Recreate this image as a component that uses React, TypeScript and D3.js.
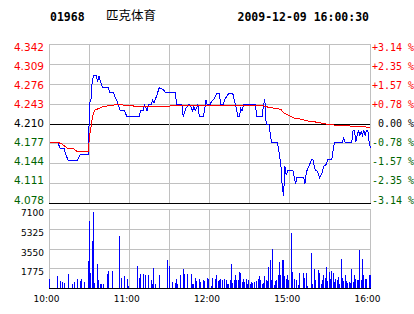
import React from 'react';
import * as d3 from 'd3';

const stockCode = '01968';
const stockName = '匹克体育';
const timestamp = '2009-12-09 16:00:30';
const prevClose = 4.21;

const priceTicks = [4.342, 4.309, 4.276, 4.243, 4.21, 4.177, 4.144, 4.111, 4.078];
const priceTickLabels = ['4.342', '4.309', '4.276', '4.243', '4.210', '4.177', '4.144', '4.111', '4.078'];
const pctLabels = ['+3.14 %', '+2.35 %', '+1.57 %', '+0.78 %', ' 0.00 %', '-0.78 %', '-1.57 %', '-2.35 %', '-3.14 %'];
const volTicks = [7100, 5325, 3550, 1775];
const gridMinutes = [0, 30, 60, 90, 120, 150, 180, 210, 240];
const timeTicks = [0, 60, 120, 180, 240];
const timeLabels = ['10:00', '11:00', '12:00', '15:00', '16:00'];

// minute index since 10:00 (lunch break removed), price
const priceMinutes = [0, 6, 8, 11, 12, 14, 21, 23, 29, 30, 31, 32, 33, 35, 36, 37, 38, 40, 44, 45, 48, 49, 51, 53, 56, 58, 67, 68, 70, 71, 73, 74, 76, 77, 78, 80, 82, 85, 87, 94, 95, 99, 100, 102, 104, 105, 107, 108, 109, 111, 112, 115, 116, 117, 118, 120, 121, 123, 125, 127, 128, 130, 131, 134, 137, 138, 139, 141, 142, 143, 144, 145, 154, 155, 159, 160, 161, 162, 164, 166, 170, 171, 172, 173, 174, 175, 176, 177, 178, 182, 183, 184, 185, 190, 191, 192, 194, 196, 197, 198, 199, 200, 201, 202, 204, 205, 207, 208, 211, 212, 213, 219, 220, 221, 226, 227, 228, 229, 230, 231, 232, 233, 234, 235, 236, 237, 238, 239, 240];
const prices = [4.18, 4.18, 4.17, 4.17, 4.16, 4.15, 4.15, 4.16, 4.16, 4.245, 4.25, 4.283, 4.29, 4.29, 4.28, 4.29, 4.28, 4.27, 4.27, 4.262, 4.262, 4.255, 4.245, 4.232, 4.232, 4.222, 4.222, 4.232, 4.232, 4.242, 4.232, 4.242, 4.242, 4.25, 4.245, 4.256, 4.27, 4.267, 4.262, 4.262, 4.243, 4.242, 4.222, 4.236, 4.242, 4.242, 4.232, 4.239, 4.232, 4.242, 4.222, 4.222, 4.234, 4.25, 4.242, 4.242, 4.247, 4.251, 4.261, 4.261, 4.242, 4.242, 4.251, 4.261, 4.261, 4.251, 4.242, 4.222, 4.222, 4.236, 4.232, 4.242, 4.242, 4.222, 4.222, 4.242, 4.251, 4.21, 4.21, 4.18, 4.18, 4.173, 4.157, 4.143, 4.107, 4.09, 4.14, 4.125, 4.132, 4.132, 4.121, 4.111, 4.121, 4.121, 4.111, 4.13, 4.14, 4.151, 4.151, 4.14, 4.132, 4.132, 4.127, 4.121, 4.13, 4.14, 4.143, 4.151, 4.151, 4.165, 4.18, 4.18, 4.187, 4.18, 4.18, 4.2, 4.2, 4.18, 4.191, 4.2, 4.19, 4.198, 4.191, 4.2, 4.19, 4.2, 4.2, 4.18, 4.17];

const avgMinutes = [0, 6, 9, 11, 14, 18, 19, 21, 29, 30, 31, 32, 33, 34, 37, 39, 43, 50, 60, 65, 78, 92, 127, 140, 160, 165, 170, 173, 175, 179, 183, 188, 193, 200, 209, 220, 235, 240];
const avgPrices = [4.18, 4.18, 4.177, 4.174, 4.169, 4.169, 4.167, 4.164, 4.164, 4.192, 4.205, 4.22, 4.228, 4.233, 4.236, 4.238, 4.24, 4.242, 4.241, 4.239, 4.239, 4.24, 4.24, 4.241, 4.24, 4.237, 4.236, 4.234, 4.229, 4.224, 4.22, 4.218, 4.215, 4.213, 4.209, 4.207, 4.206, 4.203];

const volMinutes = [0, 6, 8, 10, 11, 14, 17, 19, 21, 23, 24, 26, 29, 30, 31, 32, 33, 34, 36, 37, 38, 39, 40, 43, 44, 47, 52, 54, 56, 58, 59, 66, 67, 68, 70, 72, 74, 76, 77, 78, 79, 82, 88, 90, 92, 94, 95, 96, 98, 100, 101, 103, 106, 107, 108, 109, 110, 112, 113, 115, 116, 118, 119, 121, 122, 124, 125, 126, 127, 128, 129, 131, 132, 133, 134, 135, 136, 137, 138, 139, 140, 141, 142, 143, 144, 145, 146, 147, 148, 149, 150, 151, 152, 153, 155, 156, 157, 158, 159, 160, 161, 162, 163, 164, 165, 166, 167, 168, 169, 170, 171, 172, 173, 174, 175, 176, 177, 178, 179, 181, 182, 183, 185, 186, 187, 190, 191, 192, 193, 196, 197, 198, 199, 201, 202, 203, 204, 205, 206, 207, 208, 209, 210, 211, 212, 213, 214, 215, 216, 217, 218, 219, 220, 221, 222, 223, 224, 225, 226, 227, 228, 229, 230, 231, 232, 233, 234, 235, 236, 237, 239, 240];
const volumes = [836, 1106, 656, 596, 506, 1286, 387, 596, 836, 656, 836, 596, 2454, 6050, 1405, 4252, 6859, 506, 2185, 746, 387, 387, 447, 1286, 1555, 1555, 4702, 956, 1106, 866, 207, 2005, 986, 1286, 1286, 1196, 1196, 746, 387, 1885, 387, 1196, 2544, 2005, 596, 536, 836, 447, 1196, 1735, 1286, 1286, 1286, 387, 387, 956, 656, 836, 596, 746, 656, 956, 836, 207, 986, 836, 1196, 656, 746, 836, 746, 836, 746, 447, 387, 746, 2185, 506, 746, 1196, 746, 746, 1495, 1405, 596, 836, 596, 836, 447, 746, 387, 596, 506, 596, 686, 836, 1106, 746, 387, 506, 1106, 746, 686, 1945, 2544, 746, 3533, 297, 656, 746, 1196, 2394, 1196, 2544, 2544, 1106, 866, 1196, 746, 5001, 1495, 836, 746, 297, 1350, 1405, 956, 1405, 207, 3234, 447, 1735, 746, 1645, 1405, 447, 746, 1196, 956, 1945, 656, 1495, 836, 1585, 1405, 596, 836, 746, 1016, 447, 2634, 956, 656, 1196, 656, 536, 596, 536, 1795, 596, 1196, 836, 746, 746, 3443, 746, 2634, 1196, 836, 836, 1256, 1196];

const W = 414;
const H = 314;
const LEFT = 49.5;
const RIGHT = 370.5;
const MAIN_TOP = 44.5;
const MAIN_BOTTOM = 203.5;
const VOL_TOP = 209.5;
const VOL_BOTTOM = 288.5;

const GRID = '#c0c0c0';
const RED = '#ff0000';
const BLUE = '#0000ff';
const GREEN = '#006400';
const SANS = 'DejaVu Sans, Verdana, sans-serif';
const MONO = 'DejaVu Sans Mono, monospace';
const MONO_BOLD = 'DejaVu Sans Mono, monospace';

const crisp = (v: number) => Math.floor(v) + 0.5;

export default function App() {
  const x = d3.scaleLinear().domain([0, 240]).range([LEFT, RIGHT]);
  const y = d3.scaleLinear().domain([4.078, 4.342]).range([MAIN_BOTTOM, MAIN_TOP]);
  const labelY = d3.scaleLinear().domain([4.078, 4.342]).range([199.7, 47]);
  const yv = d3.scaleLinear().domain([0, 7100]).range([VOL_BOTTOM, VOL_TOP]);

  const priceData = priceMinutes.map((m, i) => [m, prices[i]] as [number, number]);
  const avgData = avgMinutes.map((m, i) => [m, avgPrices[i]] as [number, number]);
  const line = d3
    .line<[number, number]>()
    .x((d) => x(d[0]))
    .y((d) => y(d[1]));

  const colorFor = (p: number) => (Math.abs(p - prevClose) < 1e-6 ? '#000' : p > prevClose ? RED : GREEN);

  const vx = gridMinutes.map((m) => Math.round(x(m)) - 0.5);

  return (
    <svg
      width={W}
      height={H}
      style={{ position: 'absolute', left: 0, top: 0, background: '#fff', display: 'block' }}
    >
      <rect x={0} y={0} width={W} height={H} fill="#fff" />
      {/* header */}
      <text x={50} y={20.6} fontFamily={MONO_BOLD} fontWeight="bold" fontSize={11.5} fill="#000">
        {stockCode}
      </text>
      <text x={106} y={19.8} fontFamily="Noto Sans CJK SC" fontSize={12.5} fill="#000">
        {stockName}
      </text>
      <text x={237.5} y={20.6} fontFamily={MONO_BOLD} fontWeight="bold" fontSize={11.5} fill="#000">
        {timestamp}
      </text>

      {/* main panel grid */}
      <g shapeRendering="crispEdges">
        {priceTicks.map((p, i) => {
          const yy = crisp(y(p));
          const black = i === 4 || i === priceTicks.length - 1;
          return (
            <line key={'h' + i} x1={LEFT - 0.5} x2={RIGHT + 0.5} y1={yy} y2={yy} stroke={black ? '#000' : GRID} strokeWidth={1} />
          );
        })}
        {vx.map((xx, i) => (
          <line key={'v' + i} x1={xx} x2={xx} y1={MAIN_TOP} y2={MAIN_BOTTOM - 1} stroke={GRID} strokeWidth={1} />
        ))}
      </g>

      {/* volume panel grid */}
      <g shapeRendering="crispEdges">
        {volTicks.map((v, i) => {
          const yy = crisp(yv(v));
          return <line key={'vh' + i} x1={LEFT - 0.5} x2={RIGHT + 0.5} y1={yy} y2={yy} stroke={GRID} strokeWidth={1} />;
        })}
        {vx.map((xx, i) => (
          <line key={'vv' + i} x1={xx} x2={xx} y1={VOL_TOP} y2={VOL_BOTTOM} stroke={GRID} strokeWidth={1} />
        ))}
      </g>

      {/* volume bars */}
      <g shapeRendering="crispEdges">
        {volMinutes.map((m, i) => {
          const top = yv(volumes[i]);
          return (
            <rect key={'b' + i} x={Math.floor(x(m))} y={Math.round(top)} width={1} height={Math.floor(VOL_BOTTOM) - Math.round(top)} fill={BLUE} />
          );
        })}
        <line x1={LEFT - 0.5} x2={RIGHT + 0.5} y1={crisp(VOL_BOTTOM)} y2={crisp(VOL_BOTTOM)} stroke="#000" />
      </g>

      {/* price lines */}
      <path d={line(priceData) || ''} fill="none" stroke={BLUE} strokeWidth={1} shapeRendering="crispEdges" />
      <path d={line(avgData) || ''} fill="none" stroke={RED} strokeWidth={1} shapeRendering="crispEdges" />

      {/* left price labels */}
      {priceTicks.map((p, i) => (
        <text key={'pl' + i} x={44} y={labelY(p) + 3.8} textAnchor="end" fontFamily={SANS} fontSize={10.5} fill={colorFor(p)}>
          {priceTickLabels[i]}
        </text>
      ))}
      {/* right percent labels */}
      {priceTicks.map((p, i) => (
        <text
          key={'pr' + i}
          x={372}
          y={labelY(p) + 3.8}
          fontFamily={MONO}
          fontSize={10}
          fill={colorFor(p)}
          style={{ whiteSpace: 'pre' }}
        >
          {pctLabels[i]}
        </text>
      ))}
      {/* volume labels */}
      {volTicks.map((v, i) => (
        <text key={'vl' + i} x={44} y={yv(v) + 6.5} textAnchor="end" fontFamily={SANS} fontSize={9} fill="#000">
          {String(v)}
        </text>
      ))}
      {/* time labels */}
      {timeTicks.map((t, i) => (
        <text key={'t' + i} x={x(t) - 3} y={301.7} textAnchor="middle" fontFamily={SANS} fontSize={9} fill="#000">
          {timeLabels[i]}
        </text>
      ))}
    </svg>
  );
}
